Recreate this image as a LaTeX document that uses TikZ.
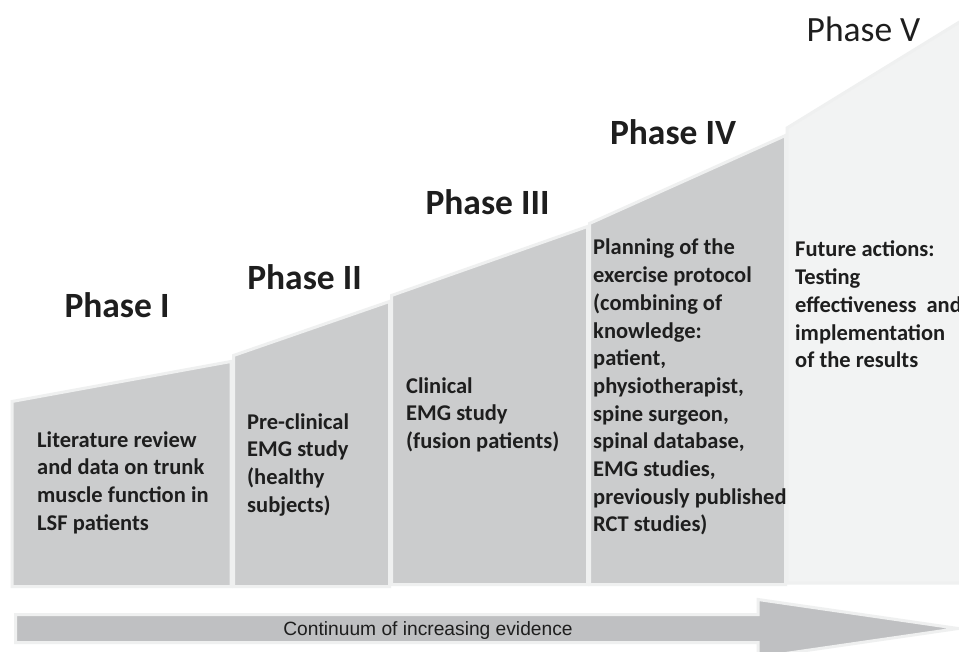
\documentclass[tikz,border=0pt]{standalone}
\usepackage{fontspec}
\setmainfont{Carlito}
\newfontfamily\arrowfont{Liberation Sans}
\definecolor{panelfill}{HTML}{CBCCCD}
\definecolor{panelrim}{HTML}{EFF0F0}
\definecolor{futurefill}{HTML}{F2F3F3}
\definecolor{arrowfill}{HTML}{BFC0C2}
\definecolor{inktext}{HTML}{1E1E1E}
\tikzset{
  panel/.style={fill=panelfill, draw=panelrim, line width=3pt, line join=miter},
  futurepanel/.style={fill=futurefill, draw=panelrim, line width=3pt},
  phasetitle/.style={font=\fontsize{35.5}{40}\selectfont\bfseries, text=inktext, inner sep=0pt, anchor=base},
  phasetitlelight/.style={font=\fontsize{35.5}{40}\selectfont, text=inktext, inner sep=0pt, anchor=base},
  paneltext/.style={font=\fontsize{22.5}{27.7}\selectfont\bfseries, text=inktext, inner sep=0pt, anchor=base west},
  evidencearrow/.style={fill=arrowfill, draw=panelrim, line width=3pt, line join=miter},
}
\newcommand{\linesof}[1]{\begin{tabular}[t]{@{}l@{}}#1\end{tabular}}
\begin{document}
\begin{tikzpicture}[x=1pt, y=-1pt]
  \clip (0,0) rectangle (959,652);
  \fill[white] (0,0) rectangle (959,652);

  % rising steps of the five phases
  \draw[futurepanel] (787,583) -- (787,128) -- (966,18) -- (966,583) -- cycle;
  \draw[panel] (12,586.5) -- (12,401.5) -- (231,361.5) -- (231,586.5) -- cycle;
  \draw[panel] (233.5,586.5) -- (233.5,355.5) -- (389.5,301.5) -- (389.5,586.5) -- cycle;
  \draw[panel] (391.5,584.5) -- (391.5,295.5) -- (587.5,226.5) -- (587.5,584.5) -- cycle;
  \draw[panel] (589.5,584.5) -- (589.5,223.5) -- (785.5,135.5) -- (785.5,584.5) -- cycle;

  % phase titles
  \node[phasetitle] (t1) at (117,318) {Phase I};
  \node[phasetitle] (t2) at (304.5,290) {Phase II};
  \node[phasetitle] (t3) at (487.5,215) {Phase III};
  \node[phasetitle] (t4) at (673,145) {Phase IV};
  \node[phasetitlelight] (t5) at (863.5,42) {Phase V};

  % descriptions
  \node[paneltext] (d1) at (37,447) {\linesof{Literature review\\and data on trunk\\muscle function in\\LSF patients}};
  \node[paneltext] (d2) at (247,429) {\linesof{Pre-clinical\\EMG study\\(healthy\\subjects)}};
  \node[paneltext] (d3) at (406,393) {\linesof{Clinical\\EMG study\\(fusion patients)}};
  \node[paneltext] (d4) at (593,255) {\linesof{Planning of the\\exercise protocol\\(combining of\\knowledge:\\patient,\\physiotherapist,\\spine surgeon,\\spinal database,\\EMG studies,\\previously published\\RCT studies)}};
  \node[paneltext] (d5) at (795,257) {\linesof{Future actions:\\Testing\\effectiveness\ \ and\\implementation\\of the results}};

  % evidence arrow
  \draw[evidencearrow] (15.5,614.5) -- (758,614.5) -- (758,599.5) -- (958,628.5)
        -- (758,657.5) -- (758,642.5) -- (15.5,642.5) -- cycle;
  \node[font=\arrowfont\fontsize{19.2}{21}\selectfont, text=inktext, inner sep=0pt, anchor=base]
        (ev) at (428,635) {Continuum of increasing evidence};
\end{tikzpicture}
\end{document}
